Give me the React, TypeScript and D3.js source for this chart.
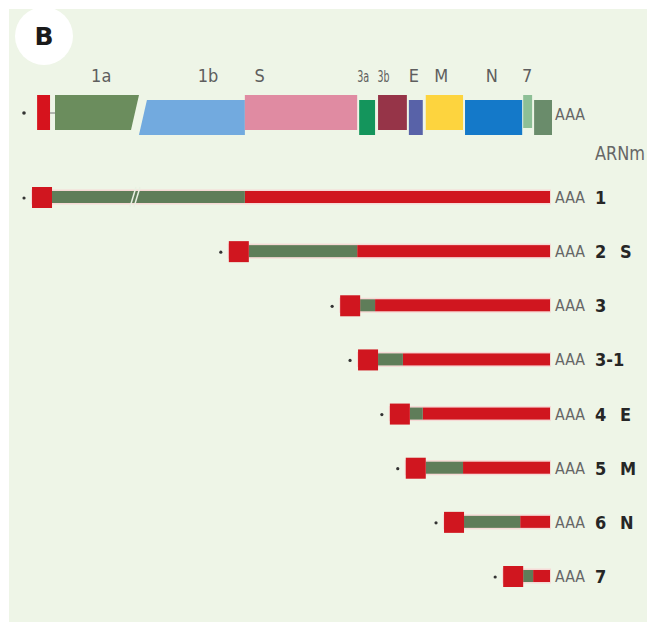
import React, { useEffect, useRef } from 'react';
import * as d3 from 'd3';

// genome map, positions in relative genome units (0 = start of ORF 1a, 100 = 3' end)
const genes = ['1a', '1b', 'S', '3a', '3b', 'E', 'M', 'N', '7a', '7b'];
const geneStart = [0, 18.5, 38.2, 61.2, 65.0, 71.2, 74.6, 82.5, 94.2, 96.4];
const geneEnd = [16.9, 38.2, 60.8, 64.4, 70.8, 74.0, 82.1, 94.0, 96.0, 100];
const geneColors = ['#6b8d5d', '#72aadf', '#e08ba2', '#14955c', '#963448', '#5862a8', '#fdd43e', '#1479c9', '#8dbf96', '#6a8c6b'];

const geneLabels = ['1a', '1b', 'S', '3a', '3b', 'E', 'M', 'N', '7'];
const geneLabelPos = [9.3, 30.8, 41.2, 62.0, 66.1, 72.2, 77.7, 87.9, 95.0];

// subgenomic mRNAs
const mrnaNames = ['1', '2', '3', '3-1', '4', '5', '6', '7'];
const mrnaProtein = ['', 'S', '', '', 'E', 'M', 'N', ''];
const mrnaOrfStart = [-0.6, 39.0, 61.4, 65.0, 71.4, 74.6, 82.3, 94.2];
const mrnaOrfEnd = [38.2, 60.8, 64.4, 70.0, 74.0, 82.1, 93.6, 96.2];
const polyAStart = 99.6;

const GREEN = '#5f7d59';
const RED = '#d0161f';
const FONT = "'DejaVu Sans Condensed', 'Liberation Sans Narrow', 'Roboto', sans-serif";

const App: React.FC = () => {
  const ref = useRef<SVGSVGElement | null>(null);

  useEffect(() => {
    if (!ref.current) return;
    const svg = d3.select(ref.current);
    svg.selectAll('*').remove();

    const x = d3.scaleLinear().domain([0, 100]).range([55, 552]);
    const y = d3.scalePoint<string>().domain(mrnaNames).range([197, 576]);

    // panel
    svg.append('rect').attr('width', 647).attr('height', 622).attr('fill', '#ffffff');
    svg.append('rect').attr('x', 9).attr('y', 9).attr('width', 638).attr('height', 613).attr('fill', '#eef5e7');

    // panel letter
    svg.append('circle').attr('cx', 44).attr('cy', 36).attr('r', 29).attr('fill', '#ffffff');
    svg.append('text')
      .attr('x', 44).attr('y', 45)
      .attr('text-anchor', 'middle')
      .attr('font-family', "'DejaVu Sans', sans-serif")
      .attr('font-weight', 'bold')
      .attr('font-size', 25)
      .attr('fill', '#1a1a1a')
      .text('B');

    // ---- genome ----
    const gTop = 95, gH = 35, gDrop = 5;
    const slant = 8;

    svg.append('circle').attr('cx', 24).attr('cy', 113).attr('r', 1.8).attr('fill', '#333');
    svg.append('rect')
      .attr('x', x(-3.6)).attr('y', gTop)
      .attr('width', x(-1.0) - x(-3.6)).attr('height', gH)
      .attr('fill', '#d6131d');
    svg.append('line')
      .attr('x1', x(-1.0)).attr('x2', x(0)).attr('y1', 113).attr('y2', 113)
      .attr('stroke', '#777').attr('stroke-width', 1);

    genes.forEach((g, i) => {
      const x0 = x(geneStart[i]);
      const x1 = x(geneEnd[i]);
      const top = gTop + (i % 2) * gDrop;
      const bot = top + gH;
      let pts: [number, number][];
      if (g === '1a') {
        pts = [[x0, top], [x1, top], [x1 - slant, bot], [x0, bot]];
      } else if (g === '1b') {
        pts = [[x0, top], [x1, top], [x1, bot], [x0 - slant, bot]];
      } else {
        pts = [[x0, top], [x1, top], [x1, bot], [x0, bot]];
      }
      if (g === '7a') pts = [[x0, top], [x1, top], [x1, bot - 2], [x0, bot - 2]];
      svg.append('path')
        .attr('d', 'M' + pts.map(p => p.join(',')).join('L') + 'Z')
        .attr('fill', geneColors[i]);
    });

    svg.selectAll('.gene-label')
      .data(geneLabels)
      .enter().append('text')
      .attr('class', 'gene-label')
      .attr('x', (_, i) => x(geneLabelPos[i]))
      .attr('y', 82)
      .attr('text-anchor', 'middle')
      .attr('font-family', FONT)
      .attr('fill', '#5e5e5e')
      .each(function (d) {
        // the two small ORF 3 labels are squeezed together in the original
        const small = d === '3a' || d === '3b';
        d3.select(this).attr('font-size', small ? 15 : 18);
        if (small) d3.select(this).attr('textLength', 12).attr('lengthAdjust', 'spacingAndGlyphs');
      })
      .text(d => d);

    svg.append('text')
      .attr('x', x(100) + 3).attr('y', 120)
      .attr('font-family', FONT).attr('font-size', 16)
      .attr('textLength', 30).attr('lengthAdjust', 'spacingAndGlyphs')
      .attr('fill', '#666').text('AAA');

    svg.append('text')
      .attr('x', 595).attr('y', 160)
      .attr('font-family', FONT).attr('font-size', 19)
      .attr('textLength', 50).attr('lengthAdjust', 'spacingAndGlyphs')
      .attr('fill', '#666').text('ARNm');

    // ---- mRNAs ----
    const barH = 12;
    const sq = 20;

    mrnaNames.forEach((name, i) => {
      const cy = y(name) as number;
      const xs = x(mrnaOrfStart[i]);
      const xe = x(mrnaOrfEnd[i]);
      const xa = x(polyAStart);
      const row = svg.append('g');

      // faint halo
      row.append('rect')
        .attr('x', xs - sq - 1).attr('y', cy - barH / 2 - 1.5)
        .attr('width', xa - xs + sq + 2).attr('height', barH + 3)
        .attr('fill', '#f6d9d6');

      row.append('rect')
        .attr('x', xe).attr('y', cy - barH / 2)
        .attr('width', xa - xe).attr('height', barH)
        .attr('fill', RED);
      row.append('rect')
        .attr('x', xs).attr('y', cy - barH / 2)
        .attr('width', xe - xs).attr('height', barH)
        .attr('fill', GREEN);
      row.append('rect')
        .attr('x', xs - sq).attr('y', cy - sq / 2)
        .attr('width', sq).attr('height', sq + 1)
        .attr('fill', RED);
      row.append('circle')
        .attr('cx', xs - sq - 8).attr('cy', cy + 1)
        .attr('r', 1.6).attr('fill', '#333');

      row.append('text')
        .attr('x', xa + 5).attr('y', cy + 6)
        .attr('font-family', FONT).attr('font-size', 16)
        .attr('textLength', 30).attr('lengthAdjust', 'spacingAndGlyphs')
        .attr('fill', '#666').text('AAA');

      row.append('text')
        .attr('x', 595).attr('y', cy + 7)
        .attr('font-family', FONT).attr('font-size', 18)
        .attr('font-weight', 'bold')
        .attr('fill', '#262626').text(name);

      if (mrnaProtein[i]) {
        row.append('text')
          .attr('x', 620).attr('y', cy + 7)
          .attr('font-family', FONT).attr('font-size', 18)
          .attr('font-weight', 'bold')
          .attr('fill', '#262626').text(mrnaProtein[i]);
      }

      // break mark on the genomic RNA
      if (name === '1') {
        const bx = x(15.7);
        [0, 4].forEach(o => {
          row.append('line')
            .attr('x1', bx + o + 3).attr('y1', cy - 10)
            .attr('x2', bx + o - 3).attr('y2', cy + 10)
            .attr('stroke', '#e9f0e2').attr('stroke-width', 1.5);
        });
      }
    });
  }, []);

  return <svg ref={ref} width={647} height={622} style={{ position: 'absolute', left: 0, top: 0 }} />;
};

export default App;
